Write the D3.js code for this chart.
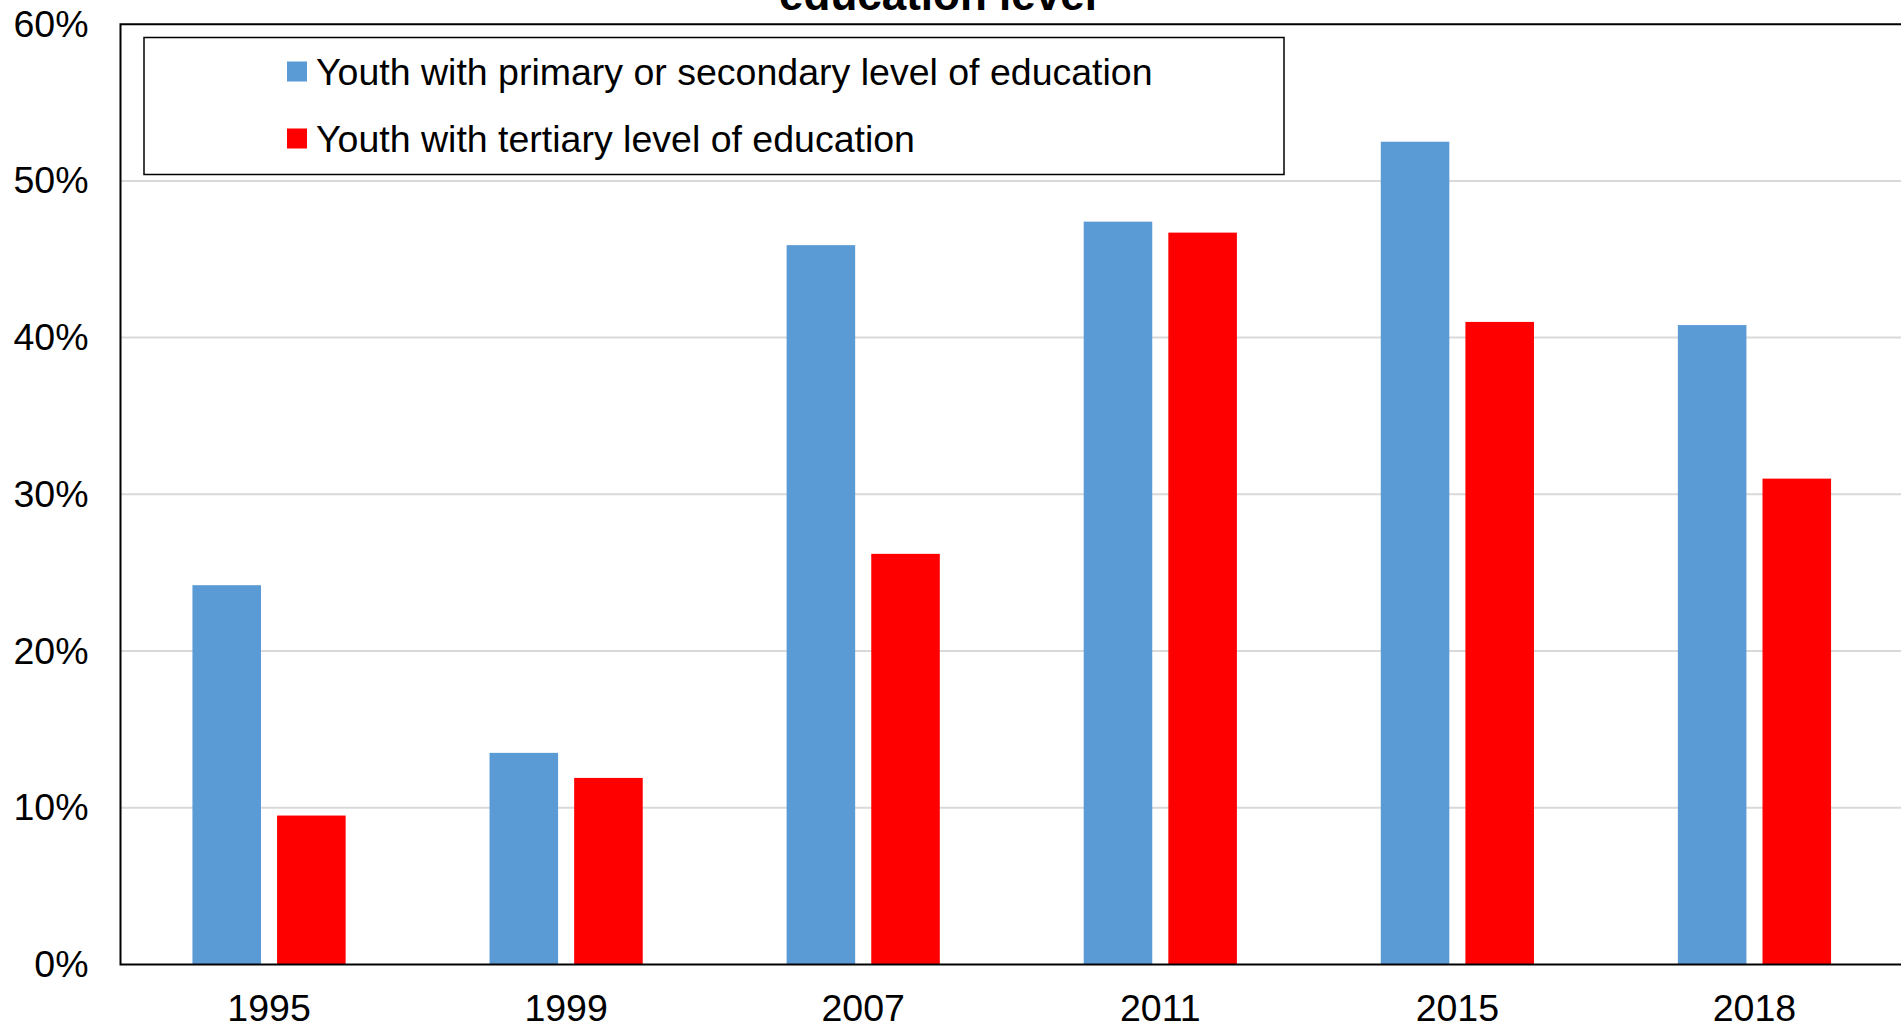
<!DOCTYPE html>
<html>
<head>
<meta charset="utf-8">
<script src="https://cdn.jsdelivr.net/npm/d3@7"></script>
<style>
  html, body { margin: 0; padding: 0; background: #fff; overflow: hidden; }
  svg { display: block; font-family: "Liberation Sans", Arial, sans-serif; }
</style>
</head>
<body>
<svg id="chart" width="1901" height="1026"></svg>
<script>
// ---- data ----
const years = ["1995", "1999", "2007", "2011", "2015", "2018"];
const seriesNames = [
  "Youth with primary or secondary level of education",
  "Youth with tertiary level of education"
];
const primarySecondary = [0.242, 0.135, 0.459, 0.474, 0.525, 0.408];
const tertiary = [0.095, 0.119, 0.262, 0.467, 0.410, 0.310];
const yTicks = [0, 0.1, 0.2, 0.3, 0.4, 0.5, 0.6];
const titleText = "education level";

// ---- layout ----
const W = 1901, H = 1026;
const pLeft = 120.5, pRight = 1903, pTop = 24.2, pBottom = 964.4;
const colors = ["#5B9BD5", "#FF0000"];
const fontSize = 37.5;

const svg = d3.select("#chart");

const x0 = d3.scaleBand().domain(years).range([pLeft, pRight]).paddingInner(0).paddingOuter(0);
const x1 = d3.scaleBand().domain([0, 1]).range([0, x0.bandwidth()]).paddingInner(0.19).paddingOuter(0.85);
const y = d3.scaleLinear().domain([0, 0.6]).range([pBottom, pTop]);

// gridlines
svg.append("g")
  .selectAll("line")
  .data(yTicks.filter(d => d > 0 && d < 0.6))
  .join("line")
  .attr("x1", pLeft).attr("x2", W)
  .attr("y1", d => y(d)).attr("y2", d => y(d))
  .attr("stroke", "#D9D9D9").attr("stroke-width", 2);

// bars
const rows = years.map((yr, i) => ({ yr, vals: [primarySecondary[i], tertiary[i]] }));
const groups = svg.append("g").selectAll("g")
  .data(rows).join("g")
  .attr("transform", d => `translate(${x0(d.yr)},0)`);
groups.selectAll("rect")
  .data(d => d.vals.map((v, k) => ({ v, k })))
  .join("rect")
  .attr("x", d => x1(d.k))
  .attr("width", x1.bandwidth())
  .attr("y", d => y(d.v))
  .attr("height", d => y(0) - y(d.v))
  .attr("fill", d => colors[d.k]);

// plot border (top, left, bottom)
svg.append("path")
  .attr("d", `M${W + 5},${pTop} H${pLeft} V${pBottom} H${W + 5}`)
  .attr("fill", "none").attr("stroke", "#000").attr("stroke-width", 2);

// y axis labels
const yAxis = d3.axisLeft(y).tickValues(yTicks).tickFormat(d3.format(".0%")).tickSize(0).tickPadding(32);
const gy = svg.append("g").attr("transform", `translate(${pLeft},0)`).call(yAxis);
gy.select(".domain").remove();
gy.selectAll("text")
  .attr("font-family", "Liberation Sans, Arial, sans-serif")
  .attr("font-size", fontSize).attr("fill", "#000");

// x axis labels
const xAxis = d3.axisBottom(x0).tickSize(0).tickPadding(0);
const gx = svg.append("g").attr("transform", `translate(0,${pBottom})`).call(xAxis);
gx.select(".domain").remove();
gx.selectAll("text")
  .attr("font-family", "Liberation Sans, Arial, sans-serif")
  .attr("font-size", fontSize).attr("fill", "#000")
  .attr("dy", null).attr("y", 57);

// title (cut at top)
svg.append("text")
  .attr("x", 938).attr("y", 10)
  .attr("text-anchor", "middle")
  .attr("font-size", 44).attr("font-weight", "bold").attr("fill", "#000")
  .text(titleText);

// legend
const lg = svg.append("g");
lg.append("rect")
  .attr("x", 144).attr("y", 37.5).attr("width", 1140).attr("height", 137)
  .attr("fill", "#fff").attr("stroke", "#000").attr("stroke-width", 1.5);
const items = lg.selectAll("g.item").data(seriesNames).join("g")
  .attr("class", "item")
  .attr("transform", (d, i) => `translate(287,${71.5 + i * 67})`);
items.append("rect")
  .attr("x", 0).attr("y", -10).attr("width", 20).attr("height", 20)
  .attr("fill", (d, i) => colors[i]);
items.append("text")
  .attr("x", 29).attr("y", 0).attr("dy", "0.35em")
  .attr("font-size", fontSize).attr("fill", "#000")
  .text(d => d);
</script>
</body>
</html>
